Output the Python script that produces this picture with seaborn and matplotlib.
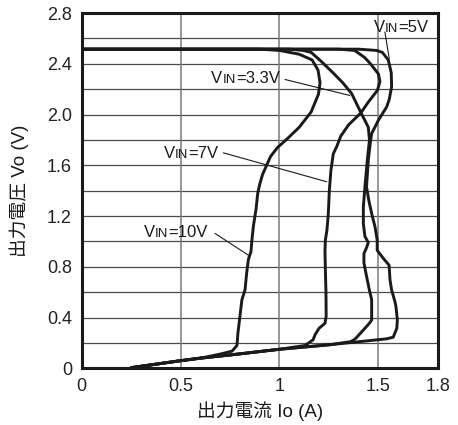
import numpy as np
import pandas as pd
import matplotlib
matplotlib.use("Agg")
import matplotlib.pyplot as plt
import seaborn as sns

# Output current (A) / output voltage (V) for each input voltage
io_3v3 = [0, 1.05, 1.12, 1.16, 1.21, 1.27, 1.32, 1.365, 1.407, 1.449, 1.455, 1.444, 1.432,
          1.424, 1.424, 1.432, 1.449, 1.44, 1.427, 1.427, 1.437, 1.454, 1.466, 1.466, 1.454,
          1.416, 1.382, 1.36]
vo_3v3 = [2.515, 2.515, 2.505, 2.49, 2.42, 2.33, 2.25, 2.165, 2.03, 1.90, 1.80, 1.64, 1.43,
          1.27, 1.14, 1.04, 0.99, 0.95, 0.905, 0.83, 0.75, 0.62, 0.54, 0.38, 0.354,
          0.288, 0.23, 0.21]

io_5v = [0, 1.40, 1.49, 1.52, 1.55, 1.565, 1.567, 1.555, 1.542, 1.50, 1.466, 1.461, 1.449,
         1.44, 1.452, 1.466, 1.483, 1.494, 1.494, 1.525, 1.554, 1.559, 1.567, 1.584, 1.589,
         1.596, 1.593, 1.575, 1.54]
vo_5v = [2.515, 2.515, 2.505, 2.49, 2.43, 2.33, 2.22, 2.12, 2.06, 1.955, 1.85, 1.80, 1.64,
         1.43, 1.32, 1.22, 1.115, 1.01, 0.93, 0.866, 0.813, 0.695, 0.617, 0.524, 0.485,
         0.38, 0.315, 0.245, 0.232]

io_7v = [0, 1.30, 1.38, 1.43, 1.46, 1.50, 1.508, 1.495, 1.45, 1.41, 1.35, 1.31, 1.29, 1.272,
         1.26, 1.252, 1.247, 1.24, 1.232, 1.23, 1.232, 1.235, 1.236, 1.23, 1.20, 1.18, 1.17,
         1.13]
vo_7v = [2.515, 2.515, 2.505, 2.45, 2.40, 2.32, 2.26, 2.19, 2.10, 2.01, 1.92, 1.83, 1.75, 1.69,
         1.56, 1.40, 1.22, 1.09, 1.01, 0.93, 0.77, 0.60, 0.41, 0.355, 0.315, 0.265, 0.225,
         0.18]

io_10v = [0, 0.90, 1.00, 1.10, 1.165, 1.195, 1.205, 1.197, 1.16, 1.10, 1.04, 0.99, 0.955,
          0.935, 0.915, 0.90, 0.89, 0.882, 0.868, 0.86, 0.856, 0.843, 0.834, 0.826, 0.81,
          0.80, 0.79, 0.785, 0.76, 0.70]
vo_10v = [2.515, 2.515, 2.505, 2.475, 2.43, 2.35, 2.25, 2.16, 2.02, 1.90, 1.81, 1.74, 1.67,
          1.60, 1.53, 1.45, 1.38, 1.26, 1.12, 1.00, 0.92, 0.86, 0.75, 0.62, 0.54,
          0.41, 0.28, 0.18, 0.135, 0.112]

# Shared short-circuit foldback line that every curve returns along
io_base = [1.25, 1.0, 0.75, 0.6, 0.5, 0.25]
vo_base = [0.185, 0.15, 0.105, 0.08, 0.06, 0.005]

series_names = ["3.3V", "5V", "7V", "10V"]
x_ticks = [0, 0.5, 1, 1.5, 1.8]
x_tick_labels = ["0", "0.5", "1", "1.5", "1.8"]
y_ticks = [0, 0.4, 0.8, 1.2, 1.6, 2.0, 2.4, 2.8]
y_tick_labels = ["0", "0.4", "0.8", "1.2", "1.6", "2.0", "2.4", "2.8"]

curves = {
    "3.3V": (io_3v3, vo_3v3),
    "5V": (io_5v, vo_5v),
    "7V": (io_7v, vo_7v),
    "10V": (io_10v, vo_10v),
}

rows = []
for name in series_names:
    xs, ys = curves[name]
    # continue each curve down the common foldback line to the origin side
    bx = [b for b in io_base if b < xs[-1]]
    by = [vo_base[io_base.index(b)] for b in bx]
    for i, (x, y) in enumerate(zip(list(xs) + bx, list(ys) + by)):
        rows.append({"series": name, "order": i, "Io": x, "Vo": y})
df = pd.DataFrame(rows)

sns.set_theme(style="white")
LAT = ["Liberation Sans", "DejaVu Sans"]
CJK = ["Liberation Sans", "Noto Sans CJK JP", "DejaVu Sans"]
plt.rcParams["font.family"] = LAT

fig = plt.figure(figsize=(4.58, 4.25), dpi=100)
ax = fig.add_axes([0.1784, 0.1334, 0.9557 - 0.1784, 0.9694 - 0.1334])

for name in series_names:
    sub = df[df["series"] == name].sort_values("order")
    sns.lineplot(data=sub, x="Io", y="Vo", sort=False, estimator=None,
                 color="#1a1a1a", lw=2.1, ax=ax, zorder=3)

ax.set_xlim(0, 1.8)
ax.set_ylim(0, 2.8)

# grid: horizontal every 0.2 V, vertical every 0.5 A
for yv in np.arange(0.2, 2.8, 0.2):
    ax.axhline(yv, color="#4a4a4a", lw=0.9, zorder=1)
for xv in [0.5, 1.0, 1.5]:
    ax.axvline(xv, color="#7a7a7a", lw=1.1, zorder=1)

ax.set_xticks(x_ticks)
ax.set_xticklabels(x_tick_labels)
ax.set_yticks(y_ticks)
ax.set_yticklabels(y_tick_labels)
ax.tick_params(axis="both", length=0, labelsize=13, colors="#222222")
ax.tick_params(axis="x", pad=7)
ax.tick_params(axis="y", pad=7)

for sp in ax.spines.values():
    sp.set_visible(True)
    sp.set_color("#1a1a1a")
    sp.set_linewidth(2.2)

ax.set_xlabel("出力電流 Io (A)", fontsize=13.5, family=CJK, color="#1a1a1a")
ax.set_ylabel("出力電圧 Vo (V)", fontsize=13.5, family=CJK, color="#1a1a1a")
ax.xaxis.set_label_coords(0.5, -0.092)
ax.yaxis.set_label_coords(-0.148, 0.5)


def vin_label(x, y, value, tail, tip):
    """Write 'VIN=..' with small-cap IN and a leader line to the curve."""
    t1 = ax.text(x, y, "V", fontsize=12, va="baseline", ha="left",
                 color="#1a1a1a", zorder=5)
    t2 = ax.annotate("IN", xy=(1, 0), xycoords=t1, fontsize=9.5,
                     va="bottom", ha="left", color="#1a1a1a", zorder=5)
    ax.annotate(f"={value}", xy=(1, 0), xycoords=t2, fontsize=12,
                va="bottom", ha="left", color="#1a1a1a", zorder=5)
    ax.annotate("", xy=tip, xytext=tail,
                arrowprops=dict(arrowstyle="-", lw=0.8, color="#1a1a1a",
                                shrinkA=0, shrinkB=0), zorder=4)


vin_label(1.478, 2.65, "5V", (1.533, 2.65), (1.555, 2.44))
vin_label(0.655, 2.25, "3.3V", (1.028, 2.276), (1.356, 2.15))
vin_label(0.415, 1.654, "7V", (0.716, 1.698), (1.239, 1.47))
vin_label(0.315, 1.037, "10V", (0.674, 1.063), (0.842, 0.892))

fig.savefig("out.png", dpi=100, facecolor="white")
